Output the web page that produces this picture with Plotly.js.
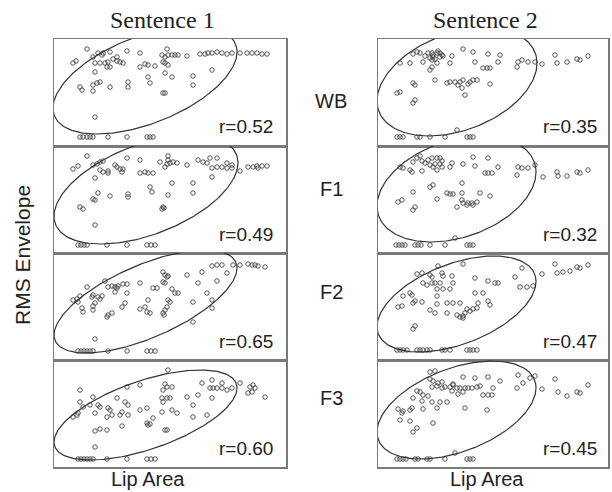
<!DOCTYPE html>
<html><head><meta charset="utf-8">
<script src="https://cdn.plot.ly/plotly-3.0.1.min.js"></script>
<style>html,body{margin:0;padding:0;background:#fff}#chart{width:612px;height:492px}</style>
</head><body><div id="chart"></div>
<script>
// ---- data (arbitrary units: lip area on x, RMS envelope on y) ----
const sentences = ["Sentence 1", "Sentence 2"];
const bands = ["WB", "F1", "F2", "F3"];
const rValues1 = [0.52, 0.49, 0.65, 0.60];
const rValues2 = [0.35, 0.32, 0.47, 0.45];

const s1wbX = [33,19,22,39,44,49,48,56,73,86,113,108,111,114,118,121,124,133,146,151,154,158,163,168,173,178,186,193,198,203,208,213,41,46,51,54,59,63,66,69,56,53,86,91,94,101,109,111,114,63,41,158,139,111,118,94,96,74,74,139,26,28,39,43,46,39,56,109,111,41,26,29,33,36,39,54,73,93,96,99];
const s1wbY = [97,83,85,89,93,93,91,94,95,93,97,91,89,91,91,91,91,90,92,92,93,93,94,93,92,93,93,93,93,93,92,92,83,83,83,84,87,85,84,83,79,79,79,82,81,80,84,83,81,89,74,76,70,73,69,69,63,64,59,61,59,56,61,63,64,55,59,53,53,29,9,9,9,9,9,9,9,9,9,9];

const s1f1X = [33,19,24,39,43,46,49,41,46,49,54,54,61,63,66,69,68,73,86,86,91,94,99,106,111,113,114,116,119,123,114,133,144,149,153,156,163,158,163,168,173,178,173,178,158,186,194,199,203,204,208,213,96,98,118,139,139,114,74,74,44,39,41,56,26,29,109,110,108,41,24,27,30,33,53,73,93,97,101];
const s1f1Y = [97,84,87,88,89,91,92,75,83,81,82,80,88,86,84,84,81,95,93,80,81,80,80,91,86,89,93,90,91,90,97,88,93,91,90,95,95,85,86,86,85,85,90,88,76,82,86,86,87,85,87,87,66,61,70,70,60,58,59,56,60,54,53,57,46,44,46,45,44,28,8,8,8,8,8,8,8,8,8];

const s1f2X = [158,163,168,173,179,186,194,198,201,204,211,148,133,144,163,153,158,158,139,139,109,111,114,109,111,113,99,103,118,121,124,116,114,113,111,109,110,86,94,86,91,93,96,71,68,73,51,54,58,61,64,69,73,61,63,33,38,39,44,48,46,19,23,26,24,41,39,39,28,29,54,58,53,41,24,27,30,33,36,39,54,73,93,97,101];
const s1f2Y = [94,95,95,87,95,95,96,95,95,94,93,88,85,77,79,67,60,52,58,38,88,85,84,78,77,83,72,72,71,67,67,58,60,53,50,47,45,77,60,51,53,48,47,57,53,67,79,73,74,73,74,76,76,68,72,73,63,65,63,64,61,60,61,64,58,57,54,50,52,48,45,47,43,21,9,9,9,9,9,9,9,9,9,9,9];

const s1f3X = [114,26,73,86,111,113,118,109,148,158,168,156,159,163,158,168,173,178,186,196,199,201,194,198,211,133,144,139,153,139,108,109,113,116,108,118,123,111,113,86,93,99,93,94,96,63,71,74,74,68,66,68,26,29,36,39,44,46,54,56,41,53,58,19,23,24,41,46,53,41,24,27,30,33,36,39,53,73,93,97,101];
const s1f3Y = [97,77,80,82,83,80,80,77,84,87,84,79,79,79,69,79,77,79,84,80,82,79,74,75,70,70,72,62,52,50,69,65,69,69,55,57,54,37,37,57,59,49,44,42,43,69,65,62,52,55,52,41,65,60,62,70,62,60,59,57,54,50,52,50,52,54,36,38,37,20,8,8,8,8,8,8,8,8,8,8,8];

const s2wbX = [39,42,35,47,50,54,55,59,60,62,64,52,54,57,55,62,65,74,85,95,110,122,45,32,22,59,54,52,72,97,105,109,112,120,139,140,144,150,157,164,177,179,189,199,202,210,57,69,72,77,80,82,85,92,95,99,90,84,112,87,35,37,22,19,37,35,79,19,22,25,39,42,52,67,89,92,95];
const s2wbY = [94,93,92,90,93,93,91,93,95,93,91,88,86,87,89,89,90,90,97,94,92,91,84,83,83,83,79,76,83,84,78,78,78,84,79,84,86,84,84,82,91,83,84,87,86,90,66,63,64,64,61,64,66,64,66,66,62,58,62,51,63,61,54,53,46,43,16,9,9,9,9,9,9,9,9,9,9];

const s2f1X = [42,39,35,44,47,50,54,59,62,64,62,57,52,55,64,72,74,85,95,97,110,107,110,114,120,22,25,32,34,44,59,139,140,144,150,157,165,179,180,189,199,202,210,52,55,84,35,59,69,72,75,84,84,85,90,94,95,99,102,112,79,89,20,24,37,35,77,18,21,24,27,37,40,43,52,67,89,92,95];
const s2f1Y = [97,95,91,92,90,93,95,95,95,92,89,89,88,86,86,86,90,89,96,87,95,80,80,80,86,86,85,83,81,82,83,78,86,85,85,88,76,81,77,77,81,80,83,66,68,70,61,54,60,59,59,60,53,50,50,50,48,51,60,57,46,48,51,53,46,43,15,8,8,8,8,8,8,8,8,8,8,8,8];

const s2f2X = [60,85,39,44,52,54,64,65,74,75,62,57,54,49,45,97,110,117,120,137,144,142,149,155,164,177,179,185,192,199,202,210,32,34,25,37,44,35,20,24,59,65,72,59,59,69,75,82,52,57,69,97,105,110,100,112,89,92,95,99,79,82,85,85,87,37,35,19,22,25,29,39,42,45,49,52,64,67,72,89,92,95,99];
const s2f2Y = [94,96,86,87,85,83,87,84,84,77,77,77,77,75,77,82,79,77,77,83,92,73,73,74,86,96,87,88,89,93,92,95,67,65,64,59,58,57,53,54,71,71,71,64,56,57,57,57,50,47,47,67,67,59,57,55,51,49,51,52,45,43,42,44,47,34,31,10,10,10,10,10,10,10,10,10,10,10,10,10,10,10,10];

const s2f3X = [52,57,52,55,60,64,54,59,64,67,72,75,79,82,87,90,94,99,102,85,97,110,122,75,74,80,85,140,145,139,152,157,164,177,180,189,199,202,210,115,105,110,114,39,42,45,50,35,54,62,69,44,34,25,20,24,32,45,59,87,109,22,32,55,39,35,77,19,22,25,28,37,40,49,52,67,89,92,95];
const s2f3Y = [95,96,88,86,84,85,80,81,79,80,80,82,79,79,79,79,79,80,81,90,89,90,86,83,76,73,75,92,84,79,89,91,78,88,75,71,75,74,82,79,72,72,72,76,75,72,71,69,65,65,65,66,59,56,58,54,57,58,59,59,57,47,46,44,39,35,14,8,8,8,8,8,8,8,8,8,8,8,8];

// correlation-ellipse parameters per panel (centre, half-extents), same units as the data
const ellCx1 = [91, 92, 91.5, 91.5];
const ellCy1 = [66, 63.5, 58.5, 52];
const ellRx1 = [92, 92, 91.5, 91.5];
const ellRy1 = [54, 54.5, 51.5, 45];
const ellCx2 = [79, 78.5, 78.5, 78.5];
const ellCy2 = [64, 64, 56, 57];
const ellRx2 = [80, 79.5, 79.5, 79.5];
const ellRy2 = [54, 53, 48, 49];

const xRange1 = [0, 232], xRange2 = [0, 230], yRange = [0, 107];

// ---- build ----
const W = 612, H = 492;
const colPx = [[54, 286], [378, 608]];
const rowPx = [[39, 146], [146, 253], [253, 360], [360, 467]];
const dataX = [[s1wbX, s1f1X, s1f2X, s1f3X], [s2wbX, s2f1X, s2f2X, s2f3X]];
const dataY = [[s1wbY, s1f1Y, s1f2Y, s1f3Y], [s2wbY, s2f1Y, s2f2Y, s2f3Y]];
const rVals = [rValues1, rValues2];
const ell = [[ellCx1, ellCy1, ellRx1, ellRy1], [ellCx2, ellCy2, ellRx2, ellRy2]];

const traces = [];
const layout = {
  width: W, height: H, margin: {l: 0, r: 0, t: 0, b: 0},
  paper_bgcolor: '#fff', plot_bgcolor: '#fff', showlegend: false,
  annotations: [], font: {family: 'Liberation Sans, Arial, sans-serif', color: '#222'}
};
const sans = 'Liberation Sans, Arial, sans-serif';
let n = 0;
for (let c = 0; c < 2; c++) {
  for (let r = 0; r < 4; r++) {
    n++;
    const sfx = n === 1 ? '' : String(n);
    const xa = 'x' + sfx, ya = 'y' + sfx;
    const axBase = {showgrid: false, zeroline: false, showticklabels: false, ticks: '',
      showline: true, mirror: true, linecolor: '#7a7a7a', linewidth: 1.5, fixedrange: true};
    layout['xaxis' + sfx] = Object.assign({}, axBase, {anchor: ya,
      domain: [colPx[c][0] / W, colPx[c][1] / W], range: c === 0 ? xRange1 : xRange2});
    layout['yaxis' + sfx] = Object.assign({}, axBase, {anchor: xa,
      domain: [1 - rowPx[r][1] / H, 1 - rowPx[r][0] / H], range: yRange});
    traces.push({type: 'scatter', mode: 'markers', x: dataX[c][r], y: dataY[c][r], xaxis: xa, yaxis: ya,
      marker: {symbol: 'circle-open', size: 4.5, color: '#444', line: {width: 0.9, color: '#444'}},
      cliponaxis: false, hoverinfo: 'skip'});
    // ellipse from centre, extents and correlation r
    const [cx, cy, rx, ry] = ell[c].map(a => a[r]);
    const d = Math.acos(rVals[c][r]);
    const ex = [], ey = [];
    for (let i = 0; i <= 240; i++) {
      const t = 2 * Math.PI * i / 240;
      ex.push(cx + rx * Math.cos(t));
      ey.push(cy + ry * Math.cos(t + d));
    }
    traces.push({type: 'scatter', mode: 'lines', x: ex, y: ey, xaxis: xa, yaxis: ya,
      line: {color: '#333', width: 1.2}, hoverinfo: 'skip'});
    // r label
    layout.annotations.push({xref: 'paper', yref: 'paper', x: (colPx[c][1] - (c === 0 ? 11 : 9)) / W,
      y: 1 - (rowPx[r][1] - 19) / H, xanchor: 'right', yanchor: 'middle', showarrow: false,
      text: 'r=' + rVals[c][r].toFixed(2), font: {family: sans, size: 19, color: '#222'}});
  }
}
// band labels
const bandY = [101, 189, 292, 398];
bands.forEach((b, i) => layout.annotations.push({xref: 'paper', yref: 'paper', x: 331 / W, y: 1 - bandY[i] / H,
  xanchor: 'center', yanchor: 'middle', showarrow: false, text: b, font: {family: sans, size: 20, color: '#222'}}));
// column titles
const colCx = [162, 485];
const lipCx = [148, 487];
sentences.forEach((s, i) => {
  layout.annotations.push({xref: 'paper', yref: 'paper', x: colCx[i] / W, y: 1 - 20 / H, xanchor: 'center', yanchor: 'middle',
    showarrow: false, text: s, font: {family: 'Liberation Serif, Times New Roman, serif', size: 24, color: '#222'}});
  layout.annotations.push({xref: 'paper', yref: 'paper', x: lipCx[i] / W, y: 1 - 479 / H,
    xanchor: 'center', yanchor: 'middle', showarrow: false, text: 'Lip Area',
    font: {family: sans, size: 20, color: '#222'}});
});
layout.annotations.push({xref: 'paper', yref: 'paper', x: 22 / W, y: 1 - 255 / H, xanchor: 'center', yanchor: 'middle',
  showarrow: false, text: 'RMS Envelope', textangle: -90, font: {family: sans, size: 21, color: '#222'}});

Plotly.newPlot('chart', traces, layout, {staticPlot: true, displayModeBar: false});
</script></body></html>
